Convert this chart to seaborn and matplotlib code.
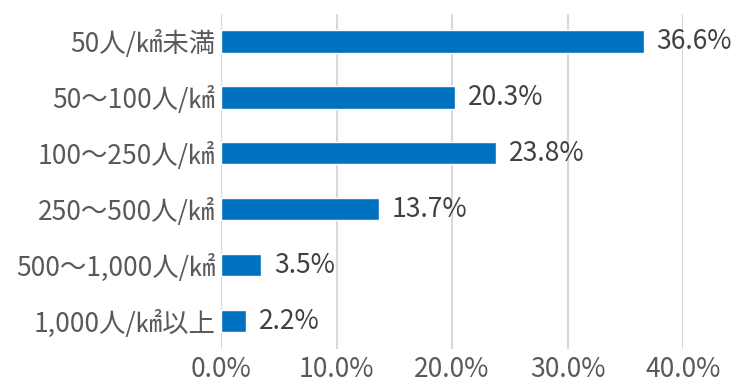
import matplotlib
matplotlib.use("Agg")
import matplotlib.pyplot as plt
import seaborn as sns
import pandas as pd

categories = ["50人/㎢未満", "50～100人/㎢", "100～250人/㎢", "250～500人/㎢", "500～1,000人/㎢", "1,000人/㎢以上"]
values = [36.6, 20.3, 23.8, 13.7, 3.5, 2.2]
xticks = [0, 10, 20, 30, 40]

sns.set_theme(style="white")
plt.rcParams['font.family'] = ['Noto Sans CJK JP', 'DejaVu Sans']

df = pd.DataFrame({"cat": categories, "val": values})

fig = plt.figure(figsize=(7.37, 3.83), dpi=100)
ax = fig.add_axes([221/737, 1 - 349/383, (683 - 221)/737, (349 - 13.5)/383])

sns.barplot(data=df, y="cat", x="val", color="#0070C0", saturation=1, width=0.40, ax=ax, zorder=3)

FS = 19
ax.set_xlim(0, 40)
ax.set_xticks(xticks)
ax.set_xticklabels([f"{t:.1f}%" for t in xticks])
ax.grid(axis="x", color="#D9D9D9", linewidth=1.5, zorder=0)
ax.set_axisbelow(True)
for s in ax.spines.values():
    s.set_visible(False)
ax.set_xlabel("")
ax.set_ylabel("")
ax.tick_params(axis="both", length=0, labelsize=FS, colors="#595959")
ax.tick_params(axis="x", pad=5)
ax.tick_params(axis="y", pad=4)

for i, v in enumerate(values):
    ax.text(v + 1.1, i, f"{v:.1f}%", va="center", ha="left", fontsize=FS, color="#404040")

fig.savefig("out.png", dpi=100)
